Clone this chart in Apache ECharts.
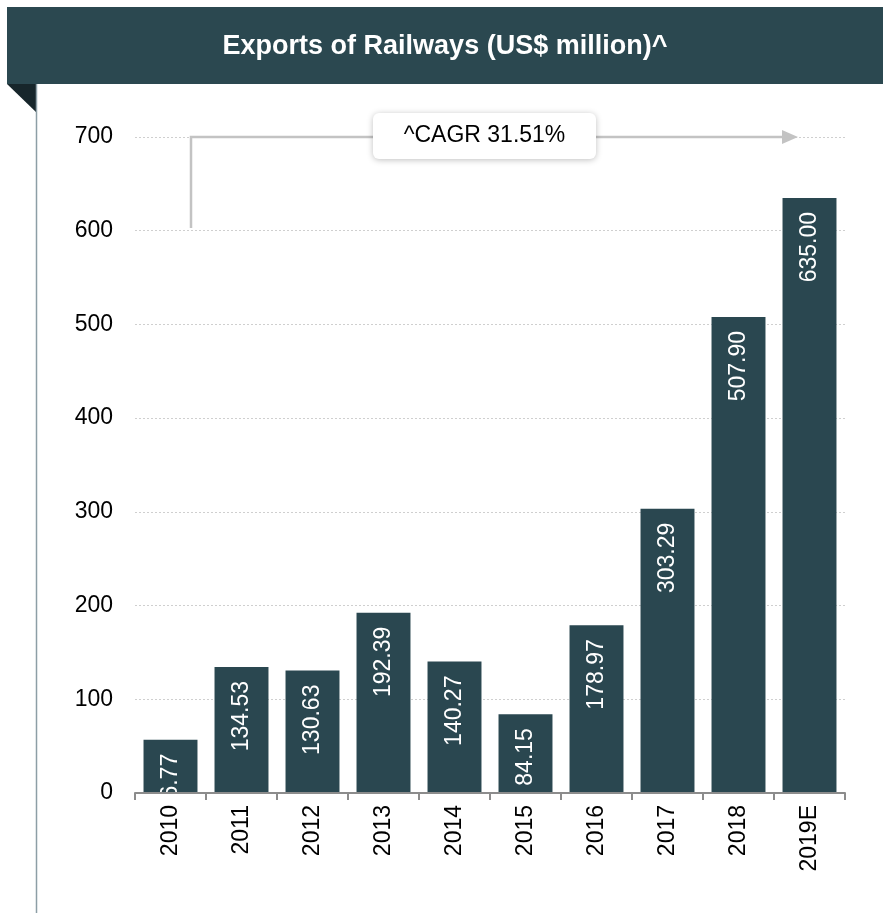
<!DOCTYPE html>
<html>
<head>
<meta charset="utf-8">
<style>
  html, body { margin: 0; padding: 0; background: #ffffff; }
  #chart { width: 883px; height: 913px; }
</style>
<script src="https://cdn.jsdelivr.net/npm/echarts@6/dist/echarts.min.js"></script>
</head>
<body>
<div id="chart"></div>
<script>
// Exports of railways, US$ million
const years = ['2010', '2011', '2012', '2013', '2014', '2015', '2016', '2017', '2018', '2019E'];
const exportsUsdMn = [56.77, 134.53, 130.63, 192.39, 140.27, 84.15, 178.97, 303.29, 507.90, 635.00];
const yTicks = [0, 100, 200, 300, 400, 500, 600, 700];
const titleText = 'Exports of Railways (US$ million)^';
const cagrText = '^CAGR 31.51%';

const FONT = '"Liberation Sans", Arial, sans-serif';
const BAR = '#2a4750';
const HEADER = '#2b4850';

const chart = echarts.init(document.getElementById('chart'), null, { renderer: 'canvas' });

chart.setOption({
  animation: false,
  backgroundColor: '#ffffff',
  grid: { left: 135, right: 38, top: 137, bottom: 120, containLabel: false },
  xAxis: {
    type: 'category',
    data: years,
    boundaryGap: true,
    // drawn above the bars so value text running past a short bar stays hidden
    z: 5,
    axisLine: { show: true, lineStyle: { color: '#8c8c8c', width: 2 } },
    axisTick: { show: true, alignWithLabel: false, length: 7, lineStyle: { color: '#8c8c8c', width: 2 } },
    axisLabel: {
      rotate: 90, color: '#000', fontFamily: FONT, fontSize: 23, margin: 12
    }
  },
  yAxis: {
    type: 'value',
    min: yTicks[0],
    max: yTicks[yTicks.length - 1],
    interval: 100,
    axisLine: { show: false },
    axisTick: { show: false },
    axisLabel: { color: '#000', fontFamily: FONT, fontSize: 23, margin: 22 },
    splitLine: { show: true, lineStyle: { color: '#cfcfcf', type: [2, 2], width: 1 } }
  },
  series: [{
    type: 'bar',
    data: exportsUsdMn,
    barWidth: '76%',
    itemStyle: { color: BAR },
    z: 1,
    label: {
      show: true,
      position: 'insideTop',
      rotate: 90,
      align: 'right',
      verticalAlign: 'middle',
      distance: 14,
      color: '#ffffff',
      fontFamily: FONT,
      fontSize: 23,
      formatter: p => p.value.toFixed(2)
    }
  }],
  graphic: [
    // header band
    { type: 'rect', shape: { x: 7, y: 7, width: 876, height: 77 }, style: { fill: HEADER }, z: 10 },
    { type: 'text', x: 445, y: 47, style: {
        text: titleText, fill: '#ffffff', font: 'bold 27px ' + FONT,
        textAlign: 'center', textVerticalAlign: 'middle' }, z: 11 },
    // folded corner under the header
    { type: 'polygon', shape: { points: [[7, 84], [37, 84], [37, 113]] }, style: { fill: '#17262b' }, z: 10 },
    // left border of the panel
    { type: 'line', shape: { x1: 36.5, y1: 84, x2: 36.5, y2: 913 }, style: { stroke: '#8d9ea6', lineWidth: 1.5 }, z: 10 },
    // CAGR bracket arrow
    { type: 'polyline', shape: { points: [[191, 228], [191, 137], [784, 137]] },
      style: { stroke: '#c3c3c3', lineWidth: 2.5, fill: null }, z: 10 },
    { type: 'polygon', shape: { points: [[782, 130], [798, 137], [782, 144]] }, style: { fill: '#c3c3c3' }, z: 10 },
    // CAGR label box
    { type: 'rect', shape: { x: 373, y: 113, width: 223, height: 46, r: 6 },
      style: { fill: '#ffffff', shadowBlur: 6, shadowColor: 'rgba(0,0,0,0.25)', shadowOffsetY: 1 }, z: 12 },
    { type: 'text', x: 484.5, y: 136, style: {
        text: cagrText, fill: '#000', font: '23px ' + FONT,
        textAlign: 'center', textVerticalAlign: 'middle' }, z: 13 }
  ]
});
</script>
</body>
</html>
